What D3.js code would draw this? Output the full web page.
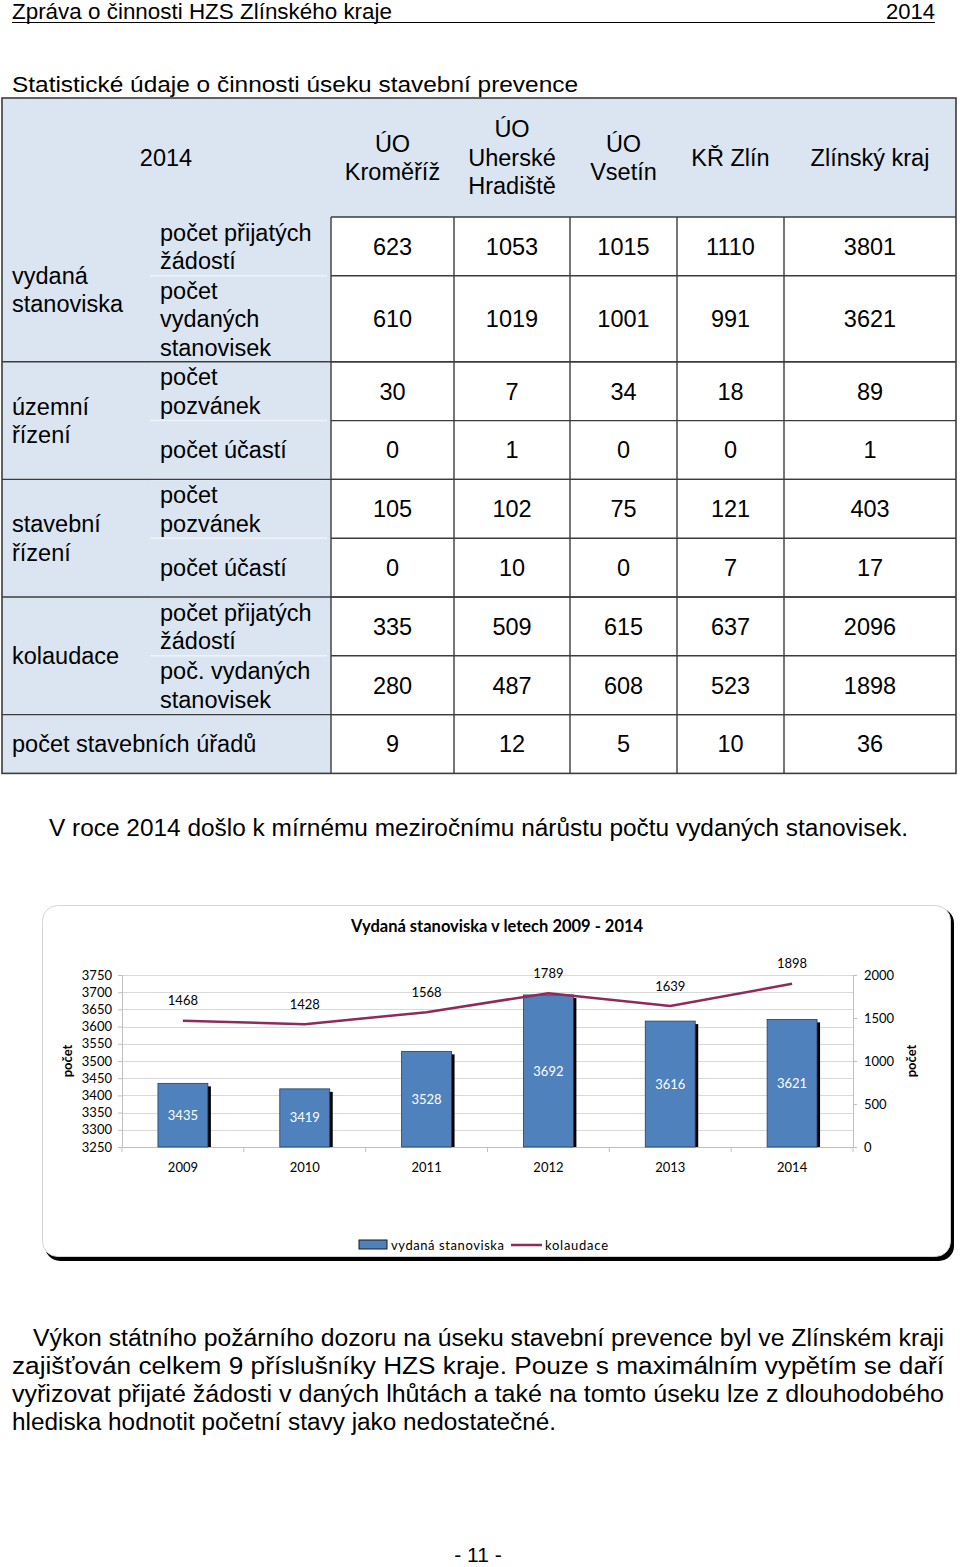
<!DOCTYPE html>
<html><head><meta charset="utf-8">
<script src="https://cdn.jsdelivr.net/npm/d3@7"></script>
<style>
html,body{margin:0;padding:0;background:#fff;}
svg{display:block;}
</style>
</head><body>
<svg id="page" width="960" height="1567"></svg>
<script>
// ---------- DATA ----------
const pageHeader = "Zpráva o činnosti HZS Zlínského kraje";
const pageYear = "2014";
const tableTitle = "Statistické údaje o činnosti úseku stavební prevence";
const tableCorner = "2014";
const columns = [["ÚO","Kroměříž"],["ÚO","Uherské","Hradiště"],["ÚO","Vsetín"],["KŘ Zlín"],["Zlínský kraj"]];
const groups = [["vydaná","stanoviska"],["územní","řízení"],["stavební","řízení"],["kolaudace"]];
const groupSizes = [2,2,2,2];
const rowLabels = [["počet přijatých","žádostí"],["počet","vydaných","stanovisek"],["počet","pozvánek"],["počet účastí"],["počet","pozvánek"],["počet účastí"],["počet přijatých","žádostí"],["poč. vydaných","stanovisek"]];
const rowValues = [
  [623,1053,1015,1110,3801],
  [610,1019,1001,991,3621],
  [30,7,34,18,89],
  [0,1,0,0,1],
  [105,102,75,121,403],
  [0,10,0,7,17],
  [335,509,615,637,2096],
  [280,487,608,523,1898]
];
const lastRowLabel = "počet stavebních úřadů";
const lastRowValues = [9,12,5,10,36];
const sentence = "V roce 2014 došlo k mírnému meziročnímu nárůstu počtu vydaných stanovisek.";

const chartTitle = "Vydaná stanoviska v letech 2009 - 2014";
const years = ["2009","2010","2011","2012","2013","2014"];
const stanoviska = [3435,3419,3528,3692,3616,3621];
const kolaudace = [1468,1428,1568,1789,1639,1898];
const leftTicks = [3250,3300,3350,3400,3450,3500,3550,3600,3650,3700,3750];
const rightTicks = [0,500,1000,1500,2000];
const axisTitle = "počet";
const legendNames = ["vydaná stanoviska","kolaudace"];

const paragraph = [
  "Výkon státního požárního dozoru na úseku stavební prevence byl ve Zlínském kraji",
  "zajišťován celkem 9 příslušníky HZS kraje. Pouze s maximálním vypětím se daří",
  "vyřizovat přijaté žádosti v daných lhůtách a také na tomto úseku lze z dlouhodobého",
  "hlediska hodnotit početní stavy jako nedostatečné."
];
const footer = "- 11 -";

// ---------- PAGE ----------
const svg = d3.select("#page");
const ARIAL = "'Liberation Sans', Arial, sans-serif";
const NARROW = "'Liberation Sans Narrow', 'Arial Narrow', 'Liberation Sans', sans-serif";
const CAL = "Lato, Carlito, Calibri, sans-serif";

svg.append("text").attr("x",12).attr("y",19).attr("font-family",NARROW).attr("font-size",22)
  .attr("textLength",380).attr("lengthAdjust","spacingAndGlyphs").text(pageHeader);
svg.append("text").attr("x",935).attr("y",19).attr("text-anchor","end").attr("font-family",NARROW).attr("font-size",22)
  .attr("textLength",49).attr("lengthAdjust","spacingAndGlyphs").text(pageYear);
svg.append("line").attr("x1",12).attr("x2",935).attr("y1",22.5).attr("y2",22.5).attr("stroke","#000").attr("stroke-width",1);

svg.append("text").attr("x",12).attr("y",92).attr("font-family",ARIAL).attr("font-size",22)
  .attr("textLength",566).attr("lengthAdjust","spacingAndGlyphs").text(tableTitle);

// ---------- TABLE ----------
const T = svg.append("g");
const tX0 = 2, tX1 = 956, labelX1 = 331;
const colEdges = [331,454,570,677,784,956];
const headTop = 98, headBot = 217;
const rowH = rowLabels.map(l => l.length === 3 ? 86 : 58.8);
const rowEdges = [headBot];
rowH.forEach(h => rowEdges.push(rowEdges[rowEdges.length-1] + h));
const lastTop = rowEdges[rowEdges.length-1], lastBot = lastTop + 58.8;
const blue = "#dbe5f1", lineC = "#3c3c3c";
const FS = 23.5, LH = 28.5;

T.append("rect").attr("x",tX0).attr("y",headTop).attr("width",tX1-tX0).attr("height",headBot-headTop).attr("fill",blue);
T.append("rect").attr("x",tX0).attr("y",headBot).attr("width",labelX1-tX0).attr("height",lastBot-headBot).attr("fill",blue);

function multiText(g, x, cy, lines, anchor){
  const n = lines.length;
  lines.forEach((s,i)=>{
    g.append("text").attr("x",x).attr("y",cy + (i-(n-1)/2)*LH).attr("dy","0.36em")
      .attr("text-anchor",anchor).attr("font-family",ARIAL).attr("font-size",FS).attr("fill","#000").text(s);
  });
}
multiText(T, 166, (headTop+headBot)/2, [tableCorner], "middle");
columns.forEach((c,i)=> multiText(T, (colEdges[i]+colEdges[i+1])/2, (headTop+headBot)/2, c, "middle"));

rowLabels.forEach((lab,r)=>{
  const cy = (rowEdges[r]+rowEdges[r+1])/2;
  multiText(T, 160, cy, lab, "start");
  rowValues[r].forEach((v,c)=> multiText(T, (colEdges[c]+colEdges[c+1])/2, cy, [String(v)], "middle"));
});
let gi = 0;
groups.forEach((g,k)=>{
  const top = rowEdges[gi], bot = rowEdges[gi+groupSizes[k]];
  multiText(T, 12, (top+bot)/2, g, "start");
  gi += groupSizes[k];
});
const lcy = (lastTop+lastBot)/2;
multiText(T, 12, lcy, [lastRowLabel], "start");
lastRowValues.forEach((v,c)=> multiText(T, (colEdges[c]+colEdges[c+1])/2, lcy, [String(v)], "middle"));

const faint = T.append("g").attr("stroke","#eef3f9").attr("stroke-width",1.5);
rowEdges.slice(1,-1).forEach(y=> faint.append("line").attr("x1",150).attr("x2",labelX1-4).attr("y1",y).attr("y2",y));

const L = T.append("g").attr("stroke",lineC).attr("stroke-width",1.4).attr("fill","none");
rowEdges.forEach(y=> L.append("line").attr("x1",labelX1).attr("x2",tX1).attr("y1",y).attr("y2",y));
let acc = 0;
groupSizes.forEach(s=>{ acc += s; const y = rowEdges[acc]; L.append("line").attr("x1",tX0).attr("x2",tX1).attr("y1",y).attr("y2",y); });
colEdges.slice(0,-1).forEach(x=> L.append("line").attr("x1",x).attr("x2",x).attr("y1",headBot).attr("y2",lastBot));
L.append("rect").attr("x",tX0).attr("y",headTop).attr("width",tX1-tX0).attr("height",lastBot-headTop).attr("stroke-width",1.6);

svg.append("text").attr("x",49).attr("y",836).attr("font-family",NARROW).attr("font-size",23)
  .attr("textLength",859).attr("lengthAdjust","spacingAndGlyphs").text(sentence);

// ---------- CHART ----------
const C = svg.append("g");
C.append("rect").attr("x",45).attr("y",908).attr("width",909).attr("height",353).attr("rx",15).attr("fill","#000");
C.append("rect").attr("x",42.5).attr("y",905.5).attr("width",908).attr("height",351).attr("rx",15)
  .attr("fill","#fff").attr("stroke","#d4d4d4").attr("stroke-width",1);

C.append("text").attr("x",497).attr("y",932).attr("text-anchor","middle").attr("font-family",CAL)
  .attr("font-weight","bold").attr("font-size",16.5).attr("fill","#000").text(chartTitle);

const plotL = 122, plotR = 853, plotT = 975, plotB = 1147;
const x = d3.scaleBand().domain(years).range([plotL,plotR]).paddingInner(0.59).paddingOuter(0.295);
const yL = d3.scaleLinear().domain([leftTicks[0], leftTicks[leftTicks.length-1]]).range([plotB,plotT]);
const yR = d3.scaleLinear().domain([rightTicks[0], rightTicks[rightTicks.length-1]]).range([plotB,plotT]);

C.append("g").selectAll("line").data(leftTicks).join("line")
  .attr("x1",plotL).attr("x2",plotR).attr("y1",d=>Math.round(yL(d))+0.5).attr("y2",d=>Math.round(yL(d))+0.5)
  .attr("stroke","#d9d9d9").attr("stroke-width",1);

const axL = C.append("g").attr("transform",`translate(${plotL},0)`)
  .call(d3.axisLeft(yL).tickValues(leftTicks).tickSize(4).tickPadding(6).tickFormat(d3.format("d")));
const axR = C.append("g").attr("transform",`translate(${plotR},0)`)
  .call(d3.axisRight(yR).tickValues(rightTicks).tickSize(4).tickPadding(7).tickFormat(d3.format("d")));
const xStep = x.step();
const axB = C.append("g").attr("transform",`translate(0,${plotB})`)
  .call(d3.axisBottom(x).tickSize(0).tickPadding(16));
[axL,axR,axB].forEach(a=>{
  a.selectAll(".domain").attr("stroke","#bfbfbf");
  a.selectAll(".tick line").attr("stroke","#bfbfbf");
  a.selectAll("text").attr("font-family",CAL).attr("font-size",13).attr("fill","#000");
});
C.append("g").selectAll("line").data(d3.range(years.length+1)).join("line")
  .attr("x1",i=>plotL+i*xStep).attr("x2",i=>plotL+i*xStep).attr("y1",plotB).attr("y2",plotB+5)
  .attr("stroke","#bfbfbf");

const bars = C.append("g");
bars.selectAll("rect.sh").data(years).join("rect").attr("class","sh")
  .attr("x",d=>x(d)+3).attr("y",(d,i)=>yL(stanoviska[i])+3)
  .attr("width",x.bandwidth()).attr("height",(d,i)=>plotB-yL(stanoviska[i])-3).attr("fill","#000");
bars.selectAll("rect.bar").data(years).join("rect").attr("class","bar")
  .attr("x",d=>x(d)).attr("y",(d,i)=>yL(stanoviska[i]))
  .attr("width",x.bandwidth()).attr("height",(d,i)=>plotB-yL(stanoviska[i]))
  .attr("fill","#4f81bd").attr("stroke","#1f3f66").attr("stroke-width",0.8);
bars.selectAll("text").data(years).join("text")
  .attr("x",d=>x(d)+x.bandwidth()/2).attr("y",(d,i)=>(yL(stanoviska[i])+plotB)/2).attr("dy","0.35em")
  .attr("text-anchor","middle").attr("font-family",CAL).attr("font-size",13).attr("fill","#fff")
  .text((d,i)=>stanoviska[i]);

const lineColor = "#8c2b5c";
const line = d3.line().x((d,i)=>x(years[i])+x.bandwidth()/2).y(d=>yR(d));
C.append("path").datum(kolaudace).attr("d",line).attr("fill","none").attr("stroke",lineColor).attr("stroke-width",2.5);
C.append("g").selectAll("text").data(kolaudace).join("text")
  .attr("x",(d,i)=>x(years[i])+x.bandwidth()/2).attr("y",d=>yR(d)-20).attr("dy","0.35em")
  .attr("text-anchor","middle").attr("font-family",CAL).attr("font-size",13).attr("fill","#000").text(d=>d);

[[67,1061],[911,1061]].forEach(p=>{
  C.append("text").attr("transform",`translate(${p[0]},${p[1]}) rotate(-90)`).attr("dy","0.35em")
    .attr("text-anchor","middle").attr("font-family",CAL).attr("font-weight","bold").attr("font-size",13).text(axisTitle);
});

const lg = C.append("g");
lg.append("rect").attr("x",359).attr("y",1240).attr("width",28).attr("height",9).attr("fill","#4f81bd").attr("stroke","#1a1a1a").attr("stroke-width",1);
lg.append("text").attr("x",391).attr("y",1245).attr("dy","0.35em").attr("font-family",CAL).attr("font-size",13)
  .attr("textLength",113).attr("lengthAdjust","spacing").text(legendNames[0]);
lg.append("line").attr("x1",511).attr("x2",542).attr("y1",1245).attr("y2",1245).attr("stroke",lineColor).attr("stroke-width",2.5);
lg.append("text").attr("x",545).attr("y",1245).attr("dy","0.35em").attr("font-family",CAL).attr("font-size",13)
  .attr("textLength",63).attr("lengthAdjust","spacing").text(legendNames[1]);

// ---------- PARAGRAPH ----------
const paraX = [33,12,12,12], paraW = [911,932,932,544];
paragraph.forEach((s,i)=>{
  svg.append("text").attr("x",paraX[i]).attr("y",1346+i*28).attr("font-family",NARROW).attr("font-size",23)
    .attr("textLength",paraW[i]).attr("lengthAdjust","spacingAndGlyphs").text(s);
});
svg.append("text").attr("x",478).attr("y",1562).attr("text-anchor","middle").attr("font-family",NARROW).attr("font-size",21).text(footer);
</script>
</body></html>
